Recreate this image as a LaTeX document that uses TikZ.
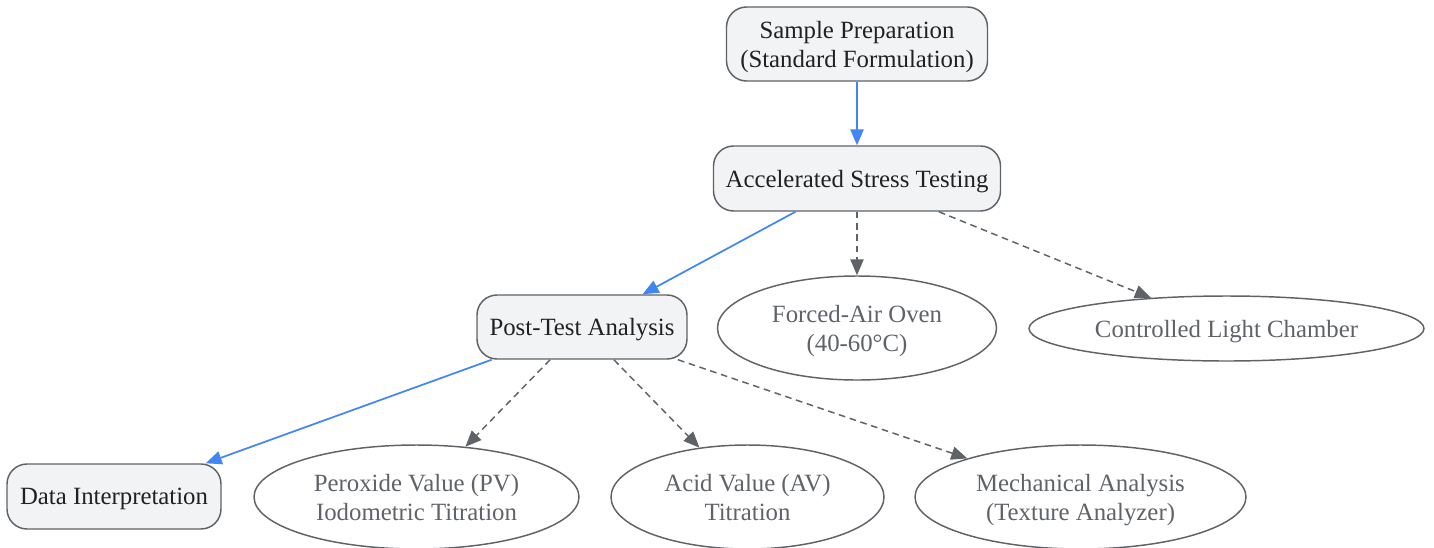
\documentclass[tikz,border=0pt]{standalone}
\usepackage{fontspec}
\setmainfont{Liberation Serif}
\usetikzlibrary{arrows.meta,shapes.geometric}
\definecolor{cloud}{RGB}{241, 243, 244}
\definecolor{slate}{RGB}{95, 99, 104}
\definecolor{ink}{RGB}{32, 33, 36}
\definecolor{azure}{RGB}{66, 133, 244}

\begin{document}
\begin{tikzpicture}[x=0.75pt, y=-0.75pt,
        stepbox/.style   = {draw=slate, fill=cloud, line width=1.1pt, rounded corners=15pt, text=ink,
                            align=center, inner sep=0pt, text depth=0pt, font=\fontsize{18.6}{21.8}\selectfont},
        devicebox/.style = {ellipse, draw=slate, fill=white, line width=1.1pt, text=slate,
                            align=center, inner sep=0pt, text depth=0pt, font=\fontsize{18.6}{21.8}\selectfont},
        mainflow/.style  = {draw=azure, line width=1.3pt, -{Triangle[length=12pt, width=10pt]}},
        sideflow/.style  = {draw=slate, line width=1.1pt, dash pattern=on 5pt off 3.5pt,
                            -{Triangle[length=12pt, width=10pt]}}]
    \useasboundingbox (0,0) rectangle (1434,547);
    % steps
    \node[stepbox, minimum width=195.75pt, minimum height=55.5pt]  (sampleprep)   at ( 857.0,  44.0) {Sample Preparation\\(Standard Formulation)};
    \node[stepbox, minimum width=215.25pt, minimum height=48.75pt] (stresstest)   at ( 857.0, 178.5) {Accelerated Stress Testing};
    \node[stepbox, minimum width=157.50pt, minimum height=48.00pt] (posttest)     at ( 582.0, 327.0) {Post-Test Analysis};
    \node[stepbox, minimum width=160.50pt, minimum height=48.75pt] (datainterp)   at ( 114.0, 496.5) {Data Interpretation};
    % equipment and methods
    \node[devicebox, minimum width=209.25pt, minimum height=78.0pt]  (oven)         at ( 857.0, 328.0) {Forced-Air Oven\\(40-60°C)};
    \node[devicebox, minimum width=296.25pt, minimum height=48.75pt] (lightchamber) at (1226.5, 328.5) {Controlled Light Chamber};
    \node[devicebox, minimum width=243.75pt, minimum height=78.0pt]  (peroxide)     at ( 416.5, 497.0) {Peroxide Value (PV)\\Iodometric Titration};
    \node[devicebox, minimum width=204.75pt, minimum height=78.0pt]  (acidvalue)    at ( 747.5, 497.0) {Acid Value (AV)\\Titration};
    \node[devicebox, minimum width=248.25pt, minimum height=78.0pt]  (mechanical)   at (1080.5, 497.0) {Mechanical Analysis\\(Texture Analyzer)};
    % connectors
    \draw[mainflow] (sampleprep) -- (stresstest);
    \draw[mainflow] (stresstest) -- (posttest);
    \draw[sideflow] (stresstest) -- (oven);
    \draw[sideflow] (stresstest) -- (lightchamber);
    \draw[mainflow] (posttest)   -- (datainterp);
    \draw[sideflow] (posttest)   -- (peroxide);
    \draw[sideflow] (posttest)   -- (acidvalue);
    \draw[sideflow] (posttest)   -- (mechanical);
\end{tikzpicture}
\end{document}
